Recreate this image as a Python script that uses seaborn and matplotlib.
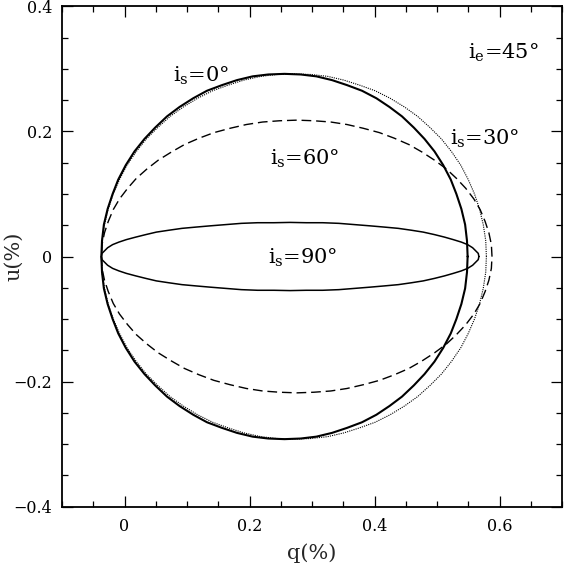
import matplotlib
matplotlib.use("Agg")
import matplotlib.pyplot as plt
import seaborn as sns
from matplotlib.ticker import MultipleLocator

# Upper halves (u >= 0) of the Q-U loops, q and u in %,
# traced from the right end (u = 0) over the top to the left end (u = 0).
# Every loop is symmetric about u = 0, the lower half is its mirror image.
q_is0 = [0.549, 0.548, 0.545, 0.539, 0.531, 0.522, 0.510, 0.496, 0.480, 0.463,
         0.444, 0.424, 0.403, 0.380, 0.356, 0.332, 0.307, 0.282, 0.256,
         0.230, 0.205, 0.180, 0.156, 0.132, 0.110, 0.088, 0.068, 0.049, 0.032,
         0.016, 0.002, -0.010, -0.019, -0.027, -0.033, -0.036, -0.037]
u_is0 = [0.0, 0.025, 0.051, 0.076, 0.100, 0.123, 0.146, 0.168, 0.188, 0.206,
         0.224, 0.239, 0.253, 0.265, 0.274, 0.282, 0.288, 0.291, 0.292,
         0.291, 0.288, 0.282, 0.274, 0.265, 0.253, 0.239, 0.224, 0.206, 0.188,
         0.168, 0.146, 0.123, 0.100, 0.076, 0.051, 0.025, 0.0]

q_is30 = [0.579, 0.578, 0.574, 0.568, 0.560, 0.550, 0.538, 0.523, 0.507, 0.489,
          0.469, 0.448, 0.425, 0.401, 0.376, 0.351, 0.325, 0.298, 0.271,
          0.244, 0.218, 0.191, 0.166, 0.141, 0.117, 0.094, 0.073, 0.053, 0.035,
          0.019, 0.004, -0.008, -0.018, -0.026, -0.032, -0.036, -0.037]
u_is30 = [0.0, 0.025, 0.051, 0.076, 0.100, 0.123, 0.146, 0.168, 0.188, 0.206,
          0.224, 0.239, 0.253, 0.265, 0.274, 0.282, 0.288, 0.291, 0.292,
          0.291, 0.288, 0.282, 0.274, 0.265, 0.253, 0.239, 0.224, 0.206, 0.188,
          0.168, 0.146, 0.123, 0.100, 0.076, 0.051, 0.025, 0.0]

q_is60 = [0.588, 0.587, 0.583, 0.577, 0.569, 0.559, 0.546, 0.531, 0.515, 0.496,
          0.476, 0.455, 0.432, 0.408, 0.382, 0.356, 0.330, 0.303, 0.276,
          0.248, 0.221, 0.195, 0.169, 0.143, 0.119, 0.096, 0.075, 0.054, 0.036,
          0.019, 0.005, -0.008, -0.018, -0.026, -0.032, -0.036, -0.037]
u_is60 = [0.0, 0.019, 0.038, 0.056, 0.075, 0.092, 0.109, 0.125, 0.140, 0.154,
          0.167, 0.179, 0.189, 0.198, 0.205, 0.211, 0.215, 0.217, 0.218,
          0.217, 0.215, 0.211, 0.205, 0.198, 0.189, 0.179, 0.167, 0.154, 0.140,
          0.125, 0.109, 0.092, 0.075, 0.056, 0.038, 0.019, 0.0]

q_is90 = [0.567, 0.566, 0.562, 0.557, 0.549, 0.539, 0.526, 0.512, 0.496, 0.478,
          0.459, 0.438, 0.416, 0.393, 0.368, 0.343, 0.317, 0.291, 0.265,
          0.239, 0.213, 0.187, 0.162, 0.137, 0.114, 0.092, 0.071, 0.051, 0.034,
          0.018, 0.003, -0.009, -0.019, -0.027, -0.032, -0.036, -0.037]
u_is90 = [0.0, 0.005, 0.009, 0.014, 0.019, 0.023, 0.027, 0.031, 0.035, 0.039,
          0.042, 0.045, 0.047, 0.049, 0.051, 0.053, 0.054, 0.054, 0.0545,
          0.054, 0.054, 0.053, 0.051, 0.049, 0.047, 0.045, 0.042, 0.039, 0.035,
          0.031, 0.027, 0.023, 0.019, 0.014, 0.009, 0.005, 0.0]

x_ticks = [0, 0.2, 0.4, 0.6]
x_ticklabels = ["0", "0.2", "0.4", "0.6"]
y_ticks = [-0.4, -0.2, 0, 0.2, 0.4]
y_ticklabels = ["\u22120.4", "\u22120.2", "0", "0.2", "0.4"]

# curve annotations: text, q, u (left end of the baseline)
annotations = [
    (r"i$_\mathrm{s}$=0°", 0.077, 0.279),
    (r"i$_\mathrm{s}$=60°", 0.232, 0.146),
    (r"i$_\mathrm{s}$=30°", 0.521, 0.178),
    (r"i$_\mathrm{e}$=45°", 0.550, 0.317),
    (r"i$_\mathrm{s}$=90°", 0.230, -0.011),
]


def closed_loop(q_up, u_up):
    # upper half followed by its mirror image below u = 0
    q_all = q_up + q_up[-2::-1]
    u_all = u_up + [-v for v in u_up[-2::-1]]
    return q_all, u_all


sns.set_style("ticks")
plt.rcParams["font.family"] = ["DejaVu Serif"]
plt.rcParams["mathtext.fontset"] = "dejavuserif"

fig = plt.figure(figsize=(5.64, 5.67), dpi=100)
ax = fig.add_axes([62 / 564, 60.3 / 567, 500 / 564, 500.4 / 567])

q, u = closed_loop(q_is0, u_is0)
sns.lineplot(x=q, y=u, sort=False, estimator=None, color="black", lw=1.5, ax=ax)
q, u = closed_loop(q_is30, u_is30)
sns.lineplot(x=q, y=u, sort=False, estimator=None, color="black", lw=0.8,
             linestyle=(0, (1, 1)), ax=ax)
q, u = closed_loop(q_is60, u_is60)
sns.lineplot(x=q, y=u, sort=False, estimator=None, color="black", lw=1.0,
             linestyle=(0, (7, 3.5)), ax=ax)
q, u = closed_loop(q_is90, u_is90)
sns.lineplot(x=q, y=u, sort=False, estimator=None, color="black", lw=1.1, ax=ax)

for txt, qx, uy in annotations:
    ax.text(qx, uy, txt, fontsize=15, ha="left", va="baseline", color="black")

ax.set_xlim(-0.1, 0.7)
ax.set_ylim(-0.4, 0.4)
ax.set_xticks(x_ticks)
ax.set_xticklabels(x_ticklabels)
ax.set_yticks(y_ticks)
ax.set_yticklabels(y_ticklabels)
ax.xaxis.set_minor_locator(MultipleLocator(0.05))
ax.yaxis.set_minor_locator(MultipleLocator(0.05))
ax.tick_params(which="both", direction="in", top=True, right=True, color="black",
               labelsize=11.5, labelcolor="black")
ax.tick_params(which="major", length=8, width=0.9)
ax.tick_params(which="minor", length=4, width=0.9)
ax.tick_params(axis="x", which="major", pad=8)
ax.tick_params(axis="y", which="major", pad=7)
for sp in ax.spines.values():
    sp.set_visible(True)
    sp.set_linewidth(1.3)
    sp.set_color("black")

ax.set_xlabel("q(%)", fontsize=15, labelpad=6)
ax.set_ylabel("u(%)", fontsize=15)
ax.yaxis.set_label_coords(-0.078, 0.5)

fig.savefig("out.png", dpi=100)
